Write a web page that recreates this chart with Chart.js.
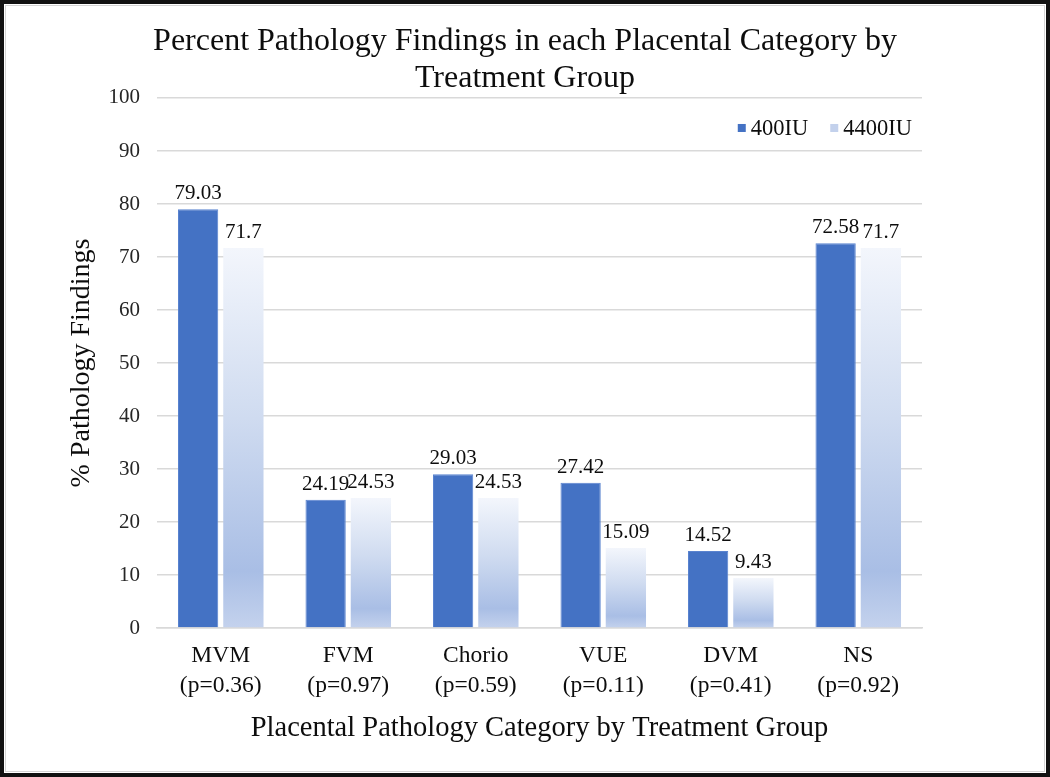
<!DOCTYPE html>
<html>
<head>
<meta charset="utf-8">
<script src="https://cdn.jsdelivr.net/npm/chart.js@4/dist/chart.umd.min.js"></script>
<style>
  html, body { margin: 0; padding: 0; background: #fff; }
  #wrap { position: relative; width: 1050px; height: 777px; }
  #frame { position: absolute; left: 0; top: 0; width: 1042px; height: 769px; border: 4px solid #111; }
  #inner { position: absolute; left: 1px; top: 1px; right: 1px; bottom: 1px; border: 1px solid #d4d4d4; }
  canvas { position: absolute; left: 0; top: 0; }
</style>
</head>
<body>
<div id="wrap">
  <div id="frame"><div id="inner"></div></div>
  <canvas id="c" width="1050" height="777"></canvas>
</div>
<script>
const categories = [
  ["MVM", "(p=0.36)"],
  ["FVM", "(p=0.97)"],
  ["Chorio", "(p=0.59)"],
  ["VUE", "(p=0.11)"],
  ["DVM", "(p=0.41)"],
  ["NS", "(p=0.92)"]
];
const seriesNames = ["400IU", "4400IU"];
const values400 = [79.03, 24.19, 29.03, 27.42, 14.52, 72.58];
const values4400 = [71.7, 24.53, 24.53, 15.09, 9.43, 71.7];
const valueLabels400 = ["79.03", "24.19", "29.03", "27.42", "14.52", "72.58"];
const valueLabels4400 = ["71.7", "24.53", "24.53", "15.09", "9.43", "71.7"];
const titleLines = ["Percent Pathology Findings in each Placental Category by", "Treatment Group"];
const yTitle = "% Pathology Findings";
const xTitle = "Placental Pathology Category by Treatment Group";

const SERIF = "'Liberation Serif', 'DejaVu Serif', serif";
const DARK = "#4472C4";
const LIGHT_SWATCH = "#c3d1ec";
const TEXT = "#0d0d0d";

function lightGradient(ctx) {
  const chart = ctx.chart;
  if (!chart.chartArea || ctx.parsed === undefined) return LIGHT_SWATCH;
  const y = chart.scales.y;
  const top = y.getPixelForValue(ctx.parsed.y);
  const bottom = y.getPixelForValue(0);
  if (!isFinite(top) || !isFinite(bottom) || bottom - top < 1) return LIGHT_SWATCH;
  const g = chart.ctx.createLinearGradient(0, top, 0, bottom);
  g.addColorStop(0, "#f3f6fc");
  g.addColorStop(0.45, "#cfdbf0");
  g.addColorStop(0.85, "#a9bee5");
  g.addColorStop(1, "#c4d2ed");
  return g;
}

const valueLabelPlugin = {
  id: "valueLabels",
  afterDatasetsDraw(chart) {
    const c = chart.ctx;
    c.save();
    c.font = "21px " + SERIF;
    c.fillStyle = TEXT;
    c.textAlign = "center";
    c.textBaseline = "bottom";
    const labelSets = [valueLabels400, valueLabels4400];
    chart.data.datasets.forEach((ds, di) => {
      const meta = chart.getDatasetMeta(di);
      meta.data.forEach((bar, i) => {
        c.fillText(labelSets[di][i], bar.x, bar.y - 5);
      });
    });
    c.restore();
  }
};

const legendPlugin = {
  id: "innerLegend",
  afterDraw(chart) {
    const c = chart.ctx;
    const area = chart.chartArea;
    c.save();
    c.font = "22.5px " + SERIF;
    c.textBaseline = "middle";
    c.textAlign = "left";
    const sw = 8, gapSw = 5, gapItem = 22;
    const widths = seriesNames.map(n => c.measureText(n).width);
    let total = 0;
    widths.forEach((w, i) => { total += sw + gapSw + w; if (i > 0) total += gapItem; });
    let x = area.right - 10 - total;
    const y = area.top + 30;
    const colors = [DARK, LIGHT_SWATCH];
    seriesNames.forEach((n, i) => {
      c.fillStyle = colors[i];
      c.fillRect(x, y - sw / 2, sw, sw);
      x += sw + gapSw;
      c.fillStyle = TEXT;
      c.fillText(n, x, y + 1);
      x += widths[i] + gapItem;
    });
    c.restore();
  }
};

new Chart(document.getElementById("c"), {
  type: "bar",
  data: {
    labels: categories,
    datasets: [
      {
        label: seriesNames[0],
        data: values400,
        backgroundColor: DARK,
        borderColor: "#5a83cf",
        borderWidth: 1,
        categoryPercentage: 0.71,
        barPercentage: 0.89,
        yAxisID: "y"
      },
      {
        label: seriesNames[1],
        data: values4400,
        backgroundColor: lightGradient,
        borderWidth: 0,
        categoryPercentage: 0.71,
        barPercentage: 0.89,
        yAxisID: "y"
      }
    ]
  },
  options: {
    responsive: false,
    animation: false,
    events: [],
    layout: { padding: { left: 0, right: 0, top: 2, bottom: 30 } },
    plugins: {
      legend: { display: false },
      tooltip: { enabled: false },
      title: {
        display: true,
        text: titleLines,
        color: TEXT,
        font: { family: SERIF, size: 32, weight: "normal", lineHeight: 1.156 },
        padding: { top: 21, bottom: 1 }
      }
    },
    scales: {
      x: {
        grid: { display: false, drawTicks: false },
        border: { display: true, color: "#d9d9d9", width: 1.5 },
        ticks: {
          color: TEXT,
          font: { family: SERIF, size: 23.5, lineHeight: 1.28 },
          padding: 13,
          maxRotation: 0,
          autoSkip: false
        },
        title: {
          display: true,
          text: xTitle,
          color: TEXT,
          font: { family: SERIF, size: 28.5, lineHeight: 1.2 },
          padding: { top: 0, bottom: 1 }
        },
        afterFit(scale) { scale.height = 119; }
      },
      y: {
        position: "left",
        min: 0,
        max: 100,
        ticks: {
          stepSize: 10,
          color: "#262626",
          font: { family: SERIF, size: 21 },
          padding: 17
        },
        grid: { color: "#d9d9d9", lineWidth: 1.5, drawTicks: false },
        border: { display: false },
        title: {
          display: true,
          text: yTitle,
          color: TEXT,
          font: { family: SERIF, size: 28, lineHeight: 1.2 },
          padding: { top: 65, bottom: 0 }
        },
        afterFit(scale) { scale.width = 157; }
      },
      spacer: {
        type: "linear",
        position: "right",
        display: true,
        min: 0,
        max: 100,
        grid: { display: false, drawTicks: false },
        border: { display: false },
        ticks: { display: false },
        afterFit(scale) { scale.width = 128; }
      }
    }
  },
  plugins: [valueLabelPlugin, legendPlugin]
});
</script>
</body>
</html>
